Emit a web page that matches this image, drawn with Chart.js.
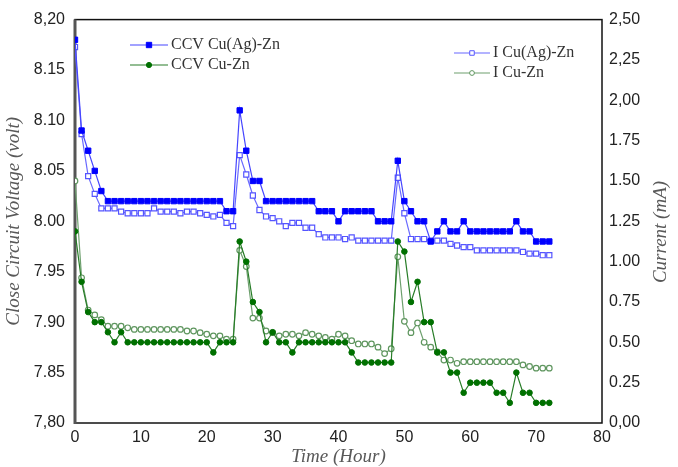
<!DOCTYPE html>
<html>
<head>
<meta charset="utf-8">
<script src="https://cdn.jsdelivr.net/npm/chart.js@4.4.0/dist/chart.umd.min.js"></script>
<style>
html, body { margin: 0; padding: 0; background: #fff; }
#wrap { width: 678px; height: 467px; }
</style>
</head>
<body>
<div id="wrap"><canvas id="myChart" width="678" height="467"></canvas></div>
<script>
//Time in hours, one reading every hour
const hours = [0,1,2,3,4,5,6,7,8,9,10,11,12,13,14,15,16,17,18,19,20,21,22,23,24,25,26,27,28,29,30,31,32,33,34,35,36,
  37,38,39,40,41,42,43,44,45,46,47,48,49,50,51,52,53,54,55,56,57,58,59,60,61,62,63,64,65,66,67,68,69,70,71,72];

//Close circuit voltage (volt), left axis
const ccvCuAgZn = [8.18,8.09,8.07,8.05,8.03,8.02,8.02,8.02,8.02,8.02,8.02,8.02,8.02,8.02,8.02,8.02,8.02,8.02,8.02,8.02,8.02,8.02,8.02,
  8.01,8.01,8.11,8.07,8.04,8.04,8.02,8.02,8.02,8.02,8.02,8.02,8.02,8.02,8.01,8.01,8.01,8.00,8.01,8.01,8.01,8.01,8.01,
  8.00,8.00,8.00,8.06,8.02,8.01,8.00,8.00,7.98,7.99,8.00,7.99,7.99,8.00,7.99,7.99,7.99,7.99,7.99,7.99,7.99,8.00,7.99,7.99,7.98,7.98,7.98];

const ccvCuZn = [7.99,7.94,7.91,7.90,7.90,7.89,7.88,7.89,7.88,7.88,7.88,7.88,7.88,7.88,7.88,7.88,7.88,7.88,7.88,7.88,7.88,7.87,7.88,
  7.88,7.88,7.98,7.96,7.92,7.91,7.88,7.89,7.88,7.88,7.87,7.88,7.88,7.88,7.88,7.88,7.88,7.88,7.88,7.87,7.86,7.86,7.86,
  7.86,7.86,7.86,7.98,7.97,7.92,7.94,7.90,7.90,7.87,7.87,7.85,7.85,7.83,7.84,7.84,7.84,7.84,7.83,7.83,7.82,7.85,7.83,7.83,7.82,7.82,7.82];

//Current (mA), right axis
const iCuAgZn = [2.33,1.79,1.53,1.42,1.33,1.33,1.33,1.31,1.30,1.30,1.30,1.30,1.33,1.31,1.31,1.31,1.30,1.31,1.31,1.30,1.29,1.28,1.29,
  1.24,1.22,1.66,1.54,1.41,1.32,1.28,1.27,1.25,1.22,1.24,1.24,1.21,1.21,1.17,1.15,1.15,1.15,1.14,1.15,1.13,1.13,1.13,
  1.13,1.13,1.13,1.52,1.30,1.14,1.14,1.14,1.13,1.13,1.13,1.11,1.10,1.09,1.09,1.07,1.07,1.07,1.07,1.07,1.07,1.07,1.06,1.05,1.05,1.04,1.04];

const iCuZn = [1.50,0.90,0.70,0.67,0.64,0.60,0.60,0.60,0.59,0.58,0.58,0.58,0.58,0.58,0.58,0.58,0.58,0.57,0.57,0.56,0.55,0.54,0.54,
  0.52,0.52,1.07,0.97,0.65,0.65,0.57,0.56,0.54,0.55,0.55,0.54,0.56,0.55,0.54,0.53,0.52,0.55,0.54,0.51,0.49,0.49,0.49,
  0.47,0.43,0.46,1.03,0.63,0.56,0.62,0.50,0.47,0.44,0.39,0.39,0.37,0.38,0.38,0.38,0.38,0.38,0.38,0.38,0.38,0.38,0.36,0.35,0.34,0.34,0.34];

//Tick labels as they are printed on the original
const xTickLabels = ['0','10','20','30','40','50','60','70','80'];
const leftTickLabels = ['7,80','7.85','7.90','7.95','8.00','8.05','8.10','8.15','8,20'];
const rightTickLabels = ['0,00','0.25','0.50','0.75','1.00','1.25','1.50','1.75','2,00','2,25','2,50'];

const seriesNames = ['CCV Cu(Ag)-Zn', 'CCV Cu-Zn', 'I Cu(Ag)-Zn', 'I Cu-Zn'];


//Turns hours + values into points for the linear x axis
function toPoints(values) {
    return values.map(function(v, i) {
        return { x: hours[i], y: v };
    });
}

const tickFont = { family: '"Liberation Sans", Arial, sans-serif', size: 16 };
const titleFont = { family: '"Liberation Serif", "Times New Roman", serif', size: 19, style: 'italic' };


//Draws the frame, the two legends and the right axis title (which reads bottom to top)
const extrasPlugin = {
    id: 'extras',
    beforeDatasetsDraw(chart) {
        const ctx = chart.ctx;
        const a = chart.chartArea;
        ctx.save();
        ctx.strokeStyle = '#111';
        ctx.lineWidth = 1.5;
        ctx.strokeRect(a.left, a.top, a.right - a.left, a.bottom - a.top);
        ctx.strokeStyle = '#555';
        ctx.lineWidth = 3;
        ctx.beginPath();
        ctx.moveTo(a.left, a.top);
        ctx.lineTo(a.left, a.bottom + 1);
        ctx.stroke();
        ctx.restore();
    },
    afterDraw(chart) {
        const ctx = chart.ctx;
        const ds = chart.data.datasets;

        const entries = [
            { d: 0, x0: 130, x1: 168, y: 45, r: 3.8 },
            { d: 1, x0: 130, x1: 168, y: 65, r: 2.6 },
            { d: 2, x0: 454, x1: 490, y: 53, r: 3.2 },
            { d: 3, x0: 454, x1: 490, y: 73, r: 2.4 }
        ];

        ctx.save();
        entries.forEach(function(e) {
            const set = ds[e.d];
            ctx.strokeStyle = set.borderColor;
            ctx.lineWidth = 1.2;
            ctx.beginPath();
            ctx.moveTo(e.x0, e.y);
            ctx.lineTo(e.x1, e.y);
            ctx.stroke();

            ctx.fillStyle = set.pointBackgroundColor;
            ctx.strokeStyle = set.pointBorderColor;
            ctx.lineWidth = 1;
            Chart.helpers.drawPoint(ctx, { pointStyle: set.pointStyle, radius: e.r, borderWidth: 1, rotation: 0 },
                (e.x0 + e.x1) / 2, e.y);

            ctx.fillStyle = '#333';
            ctx.font = '16px "Liberation Serif", "Times New Roman", serif';
            ctx.textAlign = 'left';
            ctx.textBaseline = 'middle';
            ctx.fillText(set.label, e.x1 + 3, e.y);
        });

        //right axis title
        ctx.translate(661, 232);
        ctx.rotate(-Math.PI / 2);
        ctx.fillStyle = '#595959';
        ctx.font = 'italic 19px "Liberation Serif", "Times New Roman", serif';
        ctx.textAlign = 'center';
        ctx.textBaseline = 'middle';
        ctx.fillText('Current (mA)', 0, 0);
        ctx.restore();
    }
};


const ctx = document.getElementById('myChart').getContext('2d');

//Filled series first, so they end up on top of the open ones
const myChart = new Chart(ctx, {
    type: 'line',
    data: {
        datasets: [
            {
                label: seriesNames[0],
                data: toPoints(ccvCuAgZn),
                yAxisID: 'y',
                borderColor: 'rgb(70, 70, 255)',
                borderWidth: 1.2,
                pointStyle: 'rect',
                pointRadius: 3.8,
                pointBackgroundColor: '#0000ff',
                pointBorderColor: '#0000ff',
                pointBorderWidth: 1
            },
            {
                label: seriesNames[1],
                data: toPoints(ccvCuZn),
                yAxisID: 'y',
                borderColor: 'rgb(40, 125, 40)',
                borderWidth: 1.2,
                pointStyle: 'circle',
                pointRadius: 2.8,
                pointBackgroundColor: '#007000',
                pointBorderColor: '#007000',
                pointBorderWidth: 1
            },
            {
                label: seriesNames[2],
                data: toPoints(iCuAgZn),
                yAxisID: 'y1',
                borderColor: 'rgb(105, 105, 255)',
                borderWidth: 1.2,
                pointStyle: 'rect',
                pointRadius: 3.6,
                pointBackgroundColor: '#ffffff',
                pointBorderColor: 'rgb(85, 85, 255)',
                pointBorderWidth: 1.2
            },
            {
                label: seriesNames[3],
                data: toPoints(iCuZn),
                yAxisID: 'y1',
                borderColor: 'rgb(110, 160, 110)',
                borderWidth: 1.2,
                pointStyle: 'circle',
                pointRadius: 2.8,
                pointBackgroundColor: '#ffffff',
                pointBorderColor: 'rgb(95, 150, 95)',
                pointBorderWidth: 1.2
            }
        ]
    },
    options: {
        responsive: false,
        animation: false,
        events: [],
        layout: { padding: { top: 17, left: 0, right: 0, bottom: 0 } },
        plugins: {
            legend: { display: false },
            tooltip: { enabled: false }
        },
        elements: { line: { tension: 0 } },
        scales: {
            x: {
                type: 'linear',
                min: 0,
                max: 80,
                grid: { display: false, drawTicks: false },
                border: { display: false },
                ticks: {
                    stepSize: 10,
                    padding: 5,
                    color: '#222',
                    font: tickFont,
                    maxRotation: 0,
                    callback: function(value) {
                        return xTickLabels[Math.round(value / 10)];
                    }
                },
                title: {
                    display: true,
                    text: 'Time (Hour)',
                    color: '#595959',
                    font: titleFont,
                    padding: { top: 0, bottom: -1 }
                },
                afterFit: function(scale) { scale.height = 44; }
            },
            y: {
                position: 'left',
                min: 7.8,
                max: 8.2,
                grid: { display: false, drawTicks: false },
                border: { display: false },
                ticks: {
                    stepSize: 0.05,
                    padding: 10,
                    color: '#222',
                    font: tickFont,
                    callback: function(value) {
                        return leftTickLabels[Math.round((value - 7.8) / 0.05)];
                    }
                },
                title: {
                    display: true,
                    text: 'Close Circuit Voltage (volt)',
                    color: '#595959',
                    font: titleFont,
                    padding: { top: 3, bottom: 0 }
                },
                afterFit: function(scale) { scale.width = 75; }
            },
            y1: {
                position: 'right',
                min: 0,
                max: 2.5,
                grid: { display: false, drawTicks: false },
                border: { display: false },
                ticks: {
                    stepSize: 0.25,
                    padding: 7,
                    color: '#222',
                    font: tickFont,
                    callback: function(value) {
                        return rightTickLabels[Math.round(value / 0.25)];
                    }
                },
                afterFit: function(scale) { scale.width = 76; }
            }
        }
    },
    plugins: [extrasPlugin]
});
</script>
</body>
</html>
